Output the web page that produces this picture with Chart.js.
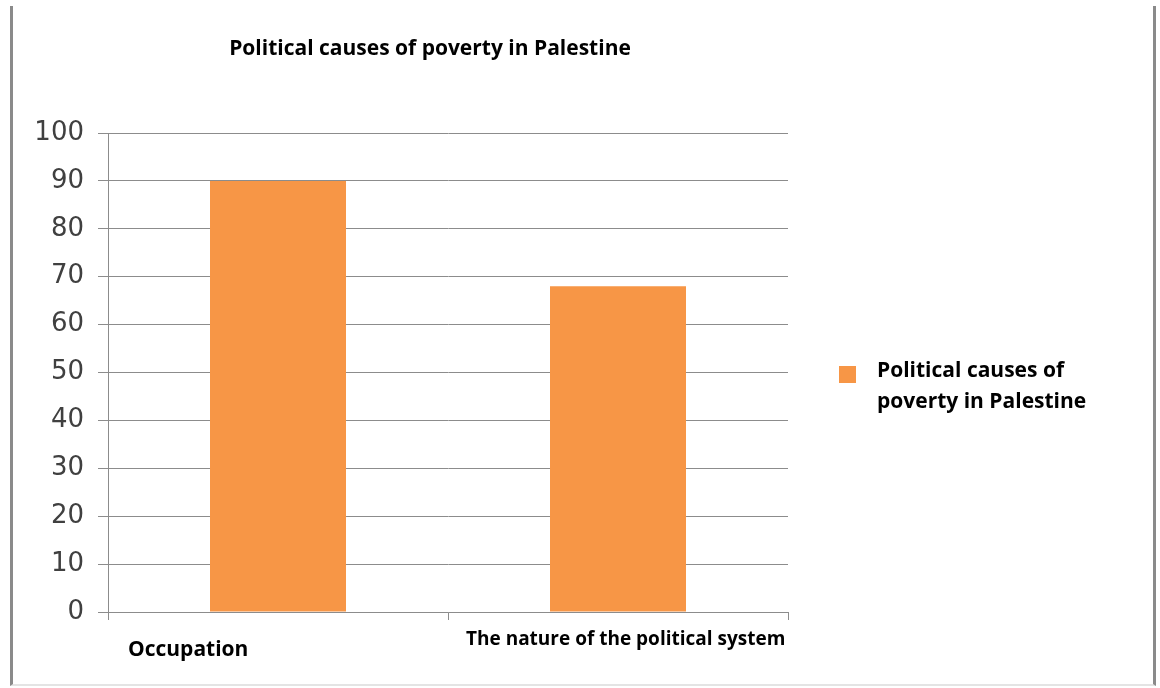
<!DOCTYPE html>
<html>
<head>
<meta charset="utf-8">
<script src="https://cdn.jsdelivr.net/npm/chart.js@4.4.0/dist/chart.umd.min.js"></script>
<style>
  html, body { margin: 0; padding: 0; background: #fff; }
  #wrap { position: relative; width: 1160px; height: 688px; }
  #frame { position: absolute; left: 10px; top: 6px; width: 1140px; height: 678px;
           border-left: 3px solid #8a8a8a; border-right: 3px solid #8a8a8a; border-bottom: 2px solid #e4e4e4; }
  canvas { position: absolute; left: 0; top: 0; }
</style>
</head>
<body>
<div id="wrap">
  <div id="frame"></div>
  <canvas id="chart" width="1160" height="688"></canvas>
</div>
<script>
  // data
  var categories = ['Occupation', 'The nature of the political system'];
  var seriesName = 'Political causes of poverty in Palestine';
  var seriesValues = [90, 68];
  var chartTitle = 'Political causes of poverty in Palestine';
  var legendLines = ['Political causes of', 'poverty in Palestine'];

  var barColor = '#F79646';
  var gridColor = '#8c8c8c';

  // title, legend and category labels drawn by hand
  var extrasPlugin = {
    id: 'extras',
    afterDraw: function(chart) {
      var ctx = chart.ctx;
      var xs = chart.scales.x;
      ctx.save();
      ctx.fillStyle = '#000';
      ctx.textBaseline = 'middle';

      ctx.font = 'bold 21px "Open Sans", sans-serif';
      ctx.textAlign = 'center';
      ctx.fillText(chartTitle, 430, 49);

      // category labels (shifted like in the original)
      ctx.textAlign = 'left';
      ctx.font = 'bold 21px "Open Sans", sans-serif';
      ctx.fillText(categories[0], xs.getPixelForValue(0) - 150, 650);
      ctx.font = 'bold 19px "Open Sans", sans-serif';
      ctx.fillText(categories[1], xs.getPixelForValue(1) - 152, 640);

      // legend
      ctx.fillStyle = barColor;
      ctx.fillRect(839, 366, 17, 17);
      ctx.fillStyle = '#000';
      ctx.font = 'bold 21px "Open Sans", sans-serif';
      ctx.fillText(legendLines[0], 877, 371);
      ctx.fillText(legendLines[1], 877, 402);
      ctx.restore();
    }
  };

  var ctx = document.getElementById('chart').getContext('2d');
  var chart = new Chart(ctx, {
    type: 'bar',
    data: {
      labels: categories,
      datasets: [{
        label: seriesName,
        backgroundColor: barColor,
        borderWidth: 0,
        data: seriesValues,
        barPercentage: 0.4,
        categoryPercentage: 1
      }]
    },
    options: {
      responsive: false,
      animation: false,
      layout: { padding: { left: 0, right: 372, top: 133, bottom: 0 } },
      plugins: {
        legend: { display: false },
        title: { display: false },
        tooltip: { enabled: false }
      },
      scales: {
        x: {
          offset: true,
          grid: { offset: true, drawOnChartArea: false, color: gridColor, tickLength: 8 },
          border: { color: gridColor },
          ticks: { display: false },
          afterFit: function(scale) { scale.height = 76; }
        },
        y: {
          min: 0,
          max: 100,
          ticks: {
            stepSize: 10,
            padding: 14,
            color: '#404040',
            font: { family: '"DejaVu Sans", sans-serif', size: 26 }
          },
          grid: { color: gridColor, tickLength: 10 },
          border: { color: gridColor },
          afterFit: function(scale) { scale.width = 108; }
        }
      }
    },
    plugins: [extrasPlugin]
  });
</script>
</body>
</html>
